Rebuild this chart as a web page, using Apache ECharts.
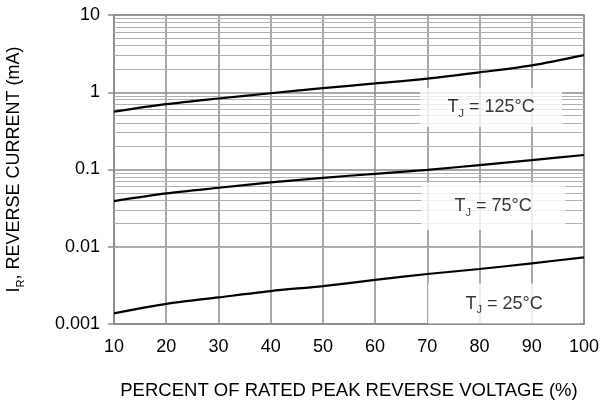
<!DOCTYPE html>
<html>
<head>
<meta charset="utf-8">
<script src="https://cdn.jsdelivr.net/npm/echarts@6/dist/echarts.min.js"></script>
<style>
  html, body { margin: 0; padding: 0; background: #fff; }
  #chart { width: 600px; height: 400px; }
</style>
</head>
<body>
<div id="chart"></div>
<script>
// percent of rated peak reverse voltage
var voltagePct = [10, 20, 30, 40, 50, 60, 70, 80, 90, 100];
// reverse current, mA
var tj125 = [0.56, 0.70, 0.83, 0.97, 1.13, 1.30, 1.50, 1.81, 2.23, 3.03];
var tj75 = [0.039, 0.049, 0.058, 0.068, 0.078, 0.088, 0.099, 0.114, 0.132, 0.154];
var tj25 = [0.00137, 0.00182, 0.00221, 0.00267, 0.0031, 0.00372, 0.00444, 0.00515, 0.0061, 0.0073];

var curveNames = ["125", "75", "25"];
var curveData = [tj125, tj75, tj25];

// where the temperature tags sit (data coords)
var tagAnchors = [[82.2, 0.635], [82.6, 0.0332], [84.7, 0.00184]];
var tagBoxes = [[142, 39], [144, 47], [152, 40]];

// minor grid at 2..9 of each decade
var decades = [0.001, 0.01, 0.1, 1];
var minorLines = [];
decades.forEach(function (d) {
  for (var k = 2; k <= 9; k++) minorLines.push({ yAxis: +(d * k).toPrecision(2) });
});

var font = "Liberation Sans, Arial, sans-serif";
var chart = echarts.init(document.getElementById("chart"));

var series = [];

series.push({
  type: "line",
  data: [],
  silent: true,
  z: 1,
  markLine: {
    silent: true,
    symbol: "none",
    animation: false,
    label: { show: false },
    lineStyle: { color: "#b0b0b0", width: 1.2, type: "solid" },
    data: minorLines
  }
});

curveData.forEach(function (vals, i) {
  series.push({
    name: curveNames[i],
    type: "line",
    smooth: 0.3,
    symbol: "none",
    z: 10,
    lineStyle: { color: "#000", width: 2.2 },
    data: voltagePct.map(function (x, j) { return [x, vals[j]]; })
  });
});

series.push({
  type: "scatter",
  symbolSize: 0,
  z: 5,
  silent: true,
  data: tagAnchors.map(function (p, i) {
    return {
      value: p,
      label: {
        show: true,
        position: "inside",
        formatter: "T{s|J} = " + curveNames[i] + "°C",
        backgroundColor: "#fff",
        width: tagBoxes[i][0],
        height: tagBoxes[i][1],
        lineHeight: tagBoxes[i][1],
        align: "center",
        verticalAlign: "middle",
        color: "#000",
        fontSize: 18,
        fontFamily: font,
        rich: {
          s: { fontSize: 11, fontFamily: font, color: "#000", padding: [13, 0, 0, 0] }
        }
      }
    };
  })
});

var option = {
  animation: false,
  backgroundColor: "#fff",
  grid: {
    left: 114,
    right: 16,
    top: 15,
    bottom: 76,
    outerBoundsMode: "none",
    show: true,
    borderColor: "#8c8c8c",
    borderWidth: 1.5
  },
  xAxis: {
    type: "value",
    min: 10,
    max: 100,
    interval: 10,
    name: "PERCENT OF RATED PEAK REVERSE VOLTAGE (%)",
    nameLocation: "middle",
    nameGap: 57,
    nameTextStyle: { fontSize: 18.5, color: "#000", fontFamily: font },
    axisLine: { lineStyle: { color: "#8c8c8c", width: 1.5 } },
    axisTick: { show: false },
    axisLabel: { fontSize: 18, color: "#000", fontFamily: font, margin: 14 },
    splitLine: { lineStyle: { color: "#8c8c8c", width: 1.5 } }
  },
  yAxis: {
    type: "log",
    logBase: 10,
    min: 0.001,
    max: 10,
    name: "I{s|R}, REVERSE CURRENT (mA)",
    nameLocation: "middle",
    nameGap: 88,
    nameTextStyle: {
      fontSize: 18,
      color: "#000",
      fontFamily: font,
      rich: { s: { fontSize: 11, fontFamily: font, color: "#000", padding: [12, 0, 0, 0] } }
    },
    axisLine: { show: true, lineStyle: { color: "#8c8c8c", width: 1.5 } },
    axisTick: { show: true, length: 6, lineStyle: { color: "#8c8c8c", width: 1.5 } },
    axisLabel: {
      fontSize: 18,
      color: "#000",
      fontFamily: font,
      margin: 14,
      formatter: function (v) { return String(Number(v.toPrecision(1))); }
    },
    splitLine: { lineStyle: { color: "#8c8c8c", width: 1.5 } }
  },
  series: series
};

chart.setOption(option);
</script>
</body>
</html>
